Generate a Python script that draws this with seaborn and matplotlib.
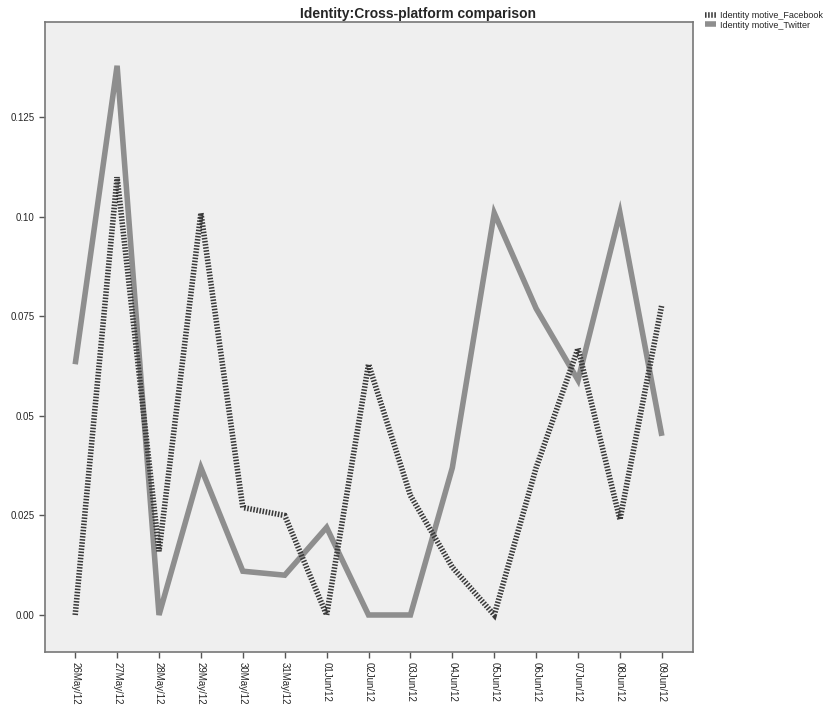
import matplotlib
matplotlib.use("Agg")
import matplotlib.pyplot as plt
import seaborn as sns
import pandas as pd

# Data
dates = ['26May/12', '27May/12', '28May/12', '29May/12', '30May/12', '31May/12',
         '01Jun/12', '02Jun/12', '03Jun/12', '04Jun/12', '05Jun/12', '06Jun/12',
         '07Jun/12', '08Jun/12', '09Jun/12']
facebook = [0.0, 0.110, 0.016, 0.101, 0.027, 0.025, 0.0, 0.063, 0.030, 0.012,
            0.0, 0.037, 0.067, 0.024, 0.078]
twitter = [0.063, 0.138, 0.0, 0.037, 0.011, 0.010, 0.022, 0.0, 0.0, 0.037,
           0.101, 0.077, 0.059, 0.101, 0.045]

sns.set_style("white")
plt.rcParams['font.family'] = ['Liberation Sans', 'DejaVu Sans']

fig = plt.figure(figsize=(8.37, 7.09), dpi=100)
ax = fig.add_axes([0.0538, 0.0804, 0.774, 0.8886])
ax.set_facecolor('#efefef')

pos = list(range(len(dates)))
df_tw = pd.DataFrame({'x': pos, 'y': twitter})
df_fb = pd.DataFrame({'x': pos, 'y': facebook})

sns.lineplot(data=df_tw, x='x', y='y', ax=ax, color='#8e8e8e', linewidth=4,
             label='Identity motive_Twitter', zorder=2,
             solid_joinstyle='miter', solid_capstyle='butt')
sns.lineplot(data=df_fb, x='x', y='y', ax=ax, color='#3a3a3a', linewidth=4,
             linestyle=(0, (0.28, 0.28)), label='Identity motive_Facebook', zorder=3,
             dash_joinstyle='miter', dash_capstyle='butt')

ax.set_xlim(-0.72, 14.74)
ax.set_ylim(-0.0093, 0.149)
ax.set_xticks(pos)
ax.set_xticklabels(dates, rotation=270, fontsize=7)
ax.set_yticks([0.0, 0.025, 0.05, 0.075, 0.10, 0.125])
ax.set_yticklabels(['0.00', '0.025', '0.05', '0.075', '0.10', '0.125'], fontsize=7)
ax.tick_params(axis='both', length=4, width=1, color='#555555', direction='out',
               bottom=True, left=True)
ax.set_xlabel('')
ax.set_ylabel('')
for s in ax.spines.values():
    s.set_color('#777777')
    s.set_linewidth(1.2)

handles, labels = ax.get_legend_handles_labels()
ax.get_legend().remove()
fig.legend(handles[::-1], labels[::-1], loc='upper left', bbox_to_anchor=(0.838, 0.99),
           frameon=False, fontsize=6.5, handlelength=1.2, handletextpad=0.5,
           labelspacing=0.1, borderaxespad=0)

fig.suptitle('Identity:Cross-platform comparison', fontsize=10, fontweight='bold',
             y=0.99)

fig.savefig('out.png', dpi=100)
